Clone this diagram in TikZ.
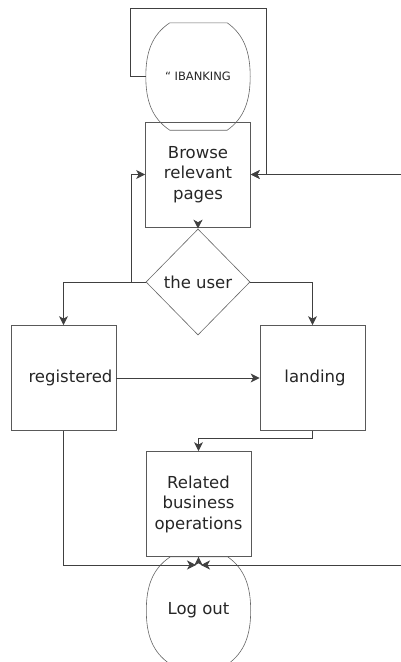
\documentclass[tikz,border=0pt]{standalone}
\usepackage{fontspec}
\setmainfont{DejaVu Sans}
\usetikzlibrary{shapes.geometric,arrows.meta}
\newcommand\drawbarrel[1]{%
  \draw[ovl] ([xshift=24pt]#1.north west) -- ([xshift=-23pt]#1.north east)
    .. controls ([xshift=-6pt,yshift=-12pt]#1.north east) and ([yshift=24pt]#1.east) .. (#1.east)
    .. controls ([yshift=-24pt]#1.east) and ([xshift=-6pt,yshift=12pt]#1.south east) .. ([xshift=-23pt]#1.south east)
    -- ([xshift=24pt]#1.south west)
    .. controls ([xshift=6pt,yshift=12pt]#1.south west) and ([yshift=-24pt]#1.west) .. (#1.west)
    .. controls ([yshift=24pt]#1.west) and ([xshift=6pt,yshift=-12pt]#1.north west) .. cycle;}
\begin{document}
\begin{tikzpicture}[x=1pt,y=-1pt,
  txt/.style={font=\fontsize{16.5}{20.5}\selectfont, text=black!85, align=center},
  box/.style={txt, draw=black!65, line width=0.7pt, minimum width=105pt, minimum height=105pt, inner sep=0pt},
  barrel/.style={txt, minimum width=104pt, minimum height=107pt, inner sep=0pt},
  ovl/.style={draw=black!60, line width=0.6pt},
  dia/.style={txt, shape=diamond, draw=black!60, line width=0.6pt, minimum width=104pt, minimum height=106pt, inner sep=0pt},
  conn/.style={draw=black!75, line width=1pt},
  arr/.style={conn, -{Stealth[length=9pt,width=9pt,inset=2.5pt]}}]
\useasboundingbox (0,0) rectangle (401,662);
% nodes
\node[barrel, font=\fontsize{11.5}{13}\selectfont] (ib) at (198,76.5) {“ IBANKING};
\node[box] (br) at (198,174.5) {Browse\\relevant\\pages};
\node[dia] (dm) at (198,282) {the user};
\node[box] (rg) at (63.5,378) {\hspace*{14pt}registered};
\node[box] (ld) at (312.5,378) {\hspace*{5pt}landing};
\node[box] (rb) at (198.5,504) {Related\\business\\operations};
\node[barrel] (lo) at (198.5,610.5) {Log out};
\drawbarrel{ib}
\drawbarrel{lo}
% helper coordinates
\coordinate (c1) at (130,8);
\coordinate (c2) at (266,8);
\coordinate (c3) at (131,282);
\coordinate (rin) at (401,174.5);
\coordinate (rin2) at (401,565);
\coordinate (m1) at (196,565);
\coordinate (m2) at (201,565);
% connectors
\draw[arr] (ib.west) -| (c1) -- (c2) |- (br.east);
\draw[arr] (rin) -- (br.east);
\draw[arr] (br.south) -- (dm.north);
\draw[arr] (dm.west) -| (rg.north);
\draw[arr] (c3) |- (br.west);
\draw[arr] (dm.east) -| (ld.north);
\draw[arr] (rg.east) -- (ld.west);
\draw[arr] (ld.south) -- ++(0,8) -| (rb.north);
\draw[arr] (rb.south) -- (lo.north);
\draw[arr] (rg.south) |- (m1);
\draw[arr] (rin2) -- (m2);
\end{tikzpicture}
\end{document}
